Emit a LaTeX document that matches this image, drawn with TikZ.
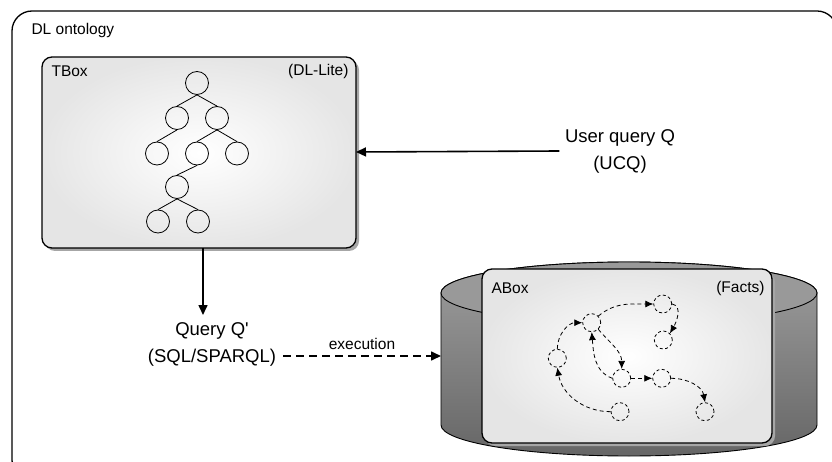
\documentclass[tikz,border=0pt]{standalone}
\usepackage{fontspec}
\setmainfont{Liberation Sans}
\usetikzlibrary{arrows.meta}
\begin{document}
\begin{tikzpicture}[x=1pt,y=1pt,
  boxshadow/.style={fill=black!35,rounded corners=10pt},
  boxfill/.style={draw=black,line width=1.3pt,rounded corners=10pt,inner color=white,outer color=black!10},
  tnode/.style={circle,draw=black,line width=0.8pt,minimum size=23pt,inner sep=0pt},
  tedge/.style={line width=0.8pt},
  fnode/.style={circle,draw=black,line width=0.8pt,dash pattern=on 3pt off 2.5pt,minimum size=18pt,inner sep=0pt},
  fedge/.style={line width=0.8pt,dash pattern=on 4pt off 3pt,-{Latex[length=8pt,width=7pt]}},
  mainarrow/.style={line width=1.6pt,-{Triangle[length=10pt,width=9pt]}},
  small/.style={font=\fontsize{15.5}{17}\selectfont},
  big/.style={font=\fontsize{18.5}{27}\selectfont,align=center}]
\useasboundingbox (0,0) rectangle (832,-462);
\clip (0,0) rectangle (832,-462);
% outer ontology box
\draw[line width=1.3pt,rounded corners=20pt] (12,-11) rectangle (837,-480);
\node[small,anchor=west] (dlo) at (28,-30) {DL ontology};
% TBox
\fill[boxshadow] (45,-60) rectangle (359,-251);
\path[boxfill] (42,-57) rectangle (356,-248);
\coordinate (tboxE) at (356,-152);
\coordinate (tboxS) at (203,-248);
\node[small,anchor=west] (tboxl) at (48,-71) {TBox};
\node[small,anchor=east] (dll) at (352,-71) {(DL-Lite)};
% tree
\node[tnode] (r) at (197,-83) {};
\node[tnode] (a1) at (177,-118) {};
\node[tnode] (a2) at (217,-118) {};
\node[tnode] (b1) at (157,-153.5) {};
\node[tnode] (b2) at (197,-153.5) {};
\node[tnode] (b3) at (237,-153.5) {};
\node[tnode] (c1) at (177,-187) {};
\node[tnode] (d1) at (158,-221.5) {};
\node[tnode] (d2) at (198,-221.5) {};
\draw[tedge] (r.south) -- (a1.north);
\draw[tedge] (r.south) -- (a2.north);
\draw[tedge] (a1.south) -- (b1.north);
\draw[tedge] (a2.south) -- (b2.north);
\draw[tedge] (a2.south) -- (b3.north);
\draw[tedge] (b2.south) -- (c1.north);
\draw[tedge] (c1.south) -- (d1.north);
\draw[tedge] (c1.south) -- (d2.north);
% user query
\node[big] (uq) at (620,-151) {User query Q\\(UCQ)};
\draw[mainarrow] (uq.west) ++(-2,0) coordinate (uqw) -- (tboxE);
% query Q'
\node[big] (qq) at (212,-344) {Query Q\textquotesingle\\(SQL/SPARQL)};
\coordinate (qqn) at (203,-315);
\draw[mainarrow] (tboxS) -- (qqn);
% cylinder
\path[draw=black,line width=0.9pt,top color=black!38,bottom color=black!60]
  (441,-293) -- (441,-425) arc[start angle=180,end angle=360,x radius=188,y radius=31]
  -- (817,-293) arc[start angle=0,end angle=180,x radius=188,y radius=31] -- cycle;
\draw[line width=0.9pt,fill=black!40] (629,-293) ellipse[x radius=188,y radius=31];
\coordinate (cylW) at (441,-356);
\coordinate (qqe) at (283,-356);
\draw[mainarrow,dash pattern=on 8pt off 5pt] (qqe) -- (cylW)
  node[midway,above=2pt,small] (exl) {execution};
% ABox
\fill[boxshadow] (485,-272) rectangle (775,-446);
\path[boxfill] (482,-269) rectangle (772,-443);
\node[small,anchor=west] (aboxl) at (488,-288) {ABox};
\node[small,anchor=east] (factsl) at (768,-288) {(Facts)};
% facts graph
\node[fnode] (n1) at (557.3,-358.3) {};
\node[fnode] (n2) at (591.7,-322.7) {};
\node[fnode] (n3) at (662.7,-304) {};
\node[fnode] (n4) at (663.3,-340) {};
\node[fnode] (n5) at (621.7,-378.3) {};
\node[fnode] (n6) at (661.7,-378.3) {};
\node[fnode] (n7) at (620,-411.7) {};
\node[fnode] (n8) at (705,-411.7) {};
\draw[fedge] (n7.west) to[out=180,in=-80] (n1.south);
\draw[fedge] (n1.north) to[out=90,in=180] (n2.west);
\draw[fedge] (n2.north east) to[out=40,in=180] (n3.west);
\draw[fedge] (n3.east) to[out=-10,in=60] (n4.north east);
\draw[fedge] (n2.south east) to[out=-50,in=90] (n5.north);
\draw[fedge] (n5.west) to[out=160,in=-85] (n2.south);
\draw[fedge] (n5.east) -- (n6.west);
\draw[fedge] (n6.east) to[out=0,in=100] (n8.north);
\end{tikzpicture}
\end{document}
